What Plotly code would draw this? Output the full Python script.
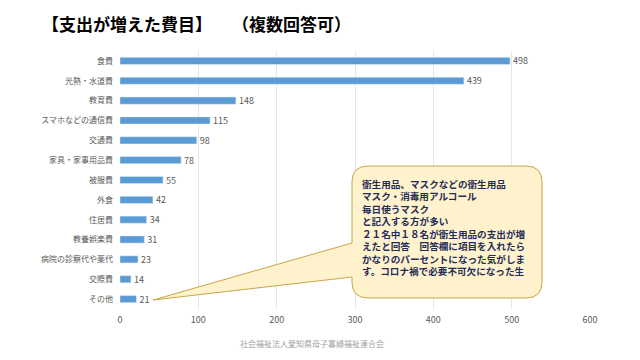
import plotly.graph_objects as go

categories = ["食費", "光熱・水道費", "教育費", "スマホなどの通信費", "交通費",
              "家具・家事用品費", "被服費", "外食", "住居費", "教養娯楽費",
              "病院の診察代や薬代", "交際費", "その他"]
values = [498, 439, 148, 115, 98, 78, 55, 42, 34, 31, 23, 14, 21]
x_ticks = [0, 100, 200, 300, 400, 500, 600]

title_left = "【支出が増えた費目】"
title_right = "（複数回答可）"
footer = "社会福祉法人愛知県母子寡婦福祉連合会"
callout_lines = [
    "衛生用品、マスクなどの衛生用品",
    "マスク・消毒用アルコール",
    "毎日使うマスク",
    "と記入する方が多い",
    "２１名中１８名が衛生用品の支出が増",
    "えたと回答　回答欄に項目を入れたら",
    "かなりのパーセントになった気がしま",
    "す。コロナ禍で必要不可欠になった生",
]

W, H = 640, 360
L, R, T, B = 120, 50, 51, 51
PW, PH = W - L - R, H - T - B

def px(x):
    return (x - L) / PW

def py(y):
    return (H - B - y) / PH

font = "Noto Sans CJK JP, Noto Sans, sans-serif"

fig = go.Figure(go.Bar(
    y=categories, x=values, orientation="h",
    marker=dict(color="#5b9bd5"),
    text=values, textposition="outside", cliponaxis=False,
    constraintext="none",
    textfont=dict(size=9, color="#595959", family=font),
    width=0.36,
))

# callout shape (rounded rectangle with wedge), defined in pixel space
x0, x1, y0, y1, r = 352, 542, 166, 298, 16
tip = (153, 300)
pts = [
    ("M", [(x0 + r, y0)]),
    ("L", [(x1 - r, y0)]),
    ("Q", [(x1, y0), (x1, y0 + r)]),
    ("L", [(x1, y1 - r)]),
    ("Q", [(x1, y1), (x1 - r, y1)]),
    ("L", [(x0 + r, y1)]),
    ("Q", [(x0, y1), (x0, y1 - r)]),
    ("L", [(x0, 277)]),
    ("L", [tip]),
    ("L", [(x0, 243)]),
    ("L", [(x0, y0 + r)]),
    ("Q", [(x0, y0), (x0 + r, y0)]),
]
path = ""
for cmd, ps in pts:
    path += cmd + " " + " ".join(f"{px(a):.5f},{py(b):.5f}" for a, b in ps) + " "
path += "Z"

fig.add_shape(type="path", path=path, xref="paper", yref="paper",
              fillcolor="#fff2cc", line=dict(color="#c8a646", width=1), layer="above")

fig.add_annotation(x=px(360), y=py(174.5), xref="paper", yref="paper",
                   xanchor="left", yanchor="top", align="left", showarrow=False,
                   text="<br>".join(f"<b>{s}</b>" for s in callout_lines),
                   font=dict(size=9.6, color="#1f2d5a", family=font))

fig.add_annotation(x=px(40), y=py(23), xref="paper", yref="paper",
                   xanchor="left", yanchor="middle", showarrow=False,
                   text=f"<b>{title_left}</b>", font=dict(size=17, color="#000000", family=font))
fig.add_annotation(x=px(230), y=py(23), xref="paper", yref="paper",
                   xanchor="left", yanchor="middle", showarrow=False,
                   text=f"<b>{title_right}</b>", font=dict(size=17, color="#000000", family=font))
fig.add_annotation(x=px(312), y=py(343), xref="paper", yref="paper",
                   xanchor="center", yanchor="middle", showarrow=False,
                   text=footer, font=dict(size=8, color="#a0a0a0", family=font))

fig.update_layout(
    width=W, height=H,
    margin=dict(l=L, r=R, t=T, b=B),
    paper_bgcolor="white", plot_bgcolor="white",
    showlegend=False,
    xaxis=dict(range=[0, 600], tickvals=x_ticks, showgrid=True, gridcolor="#e6e6e6",
               gridwidth=1, zeroline=False, showline=False,
               tickfont=dict(size=9, color="#595959", family=font), ticklabelstandoff=4),
    yaxis=dict(autorange="reversed", showgrid=False, showline=False, zeroline=False,
               tickfont=dict(size=8, color="#595959", family=font), ticklabelstandoff=6),
)

fig.write_html("out.html", config={"displayModeBar": False},
               post_script="document.body.style.margin='0';")
